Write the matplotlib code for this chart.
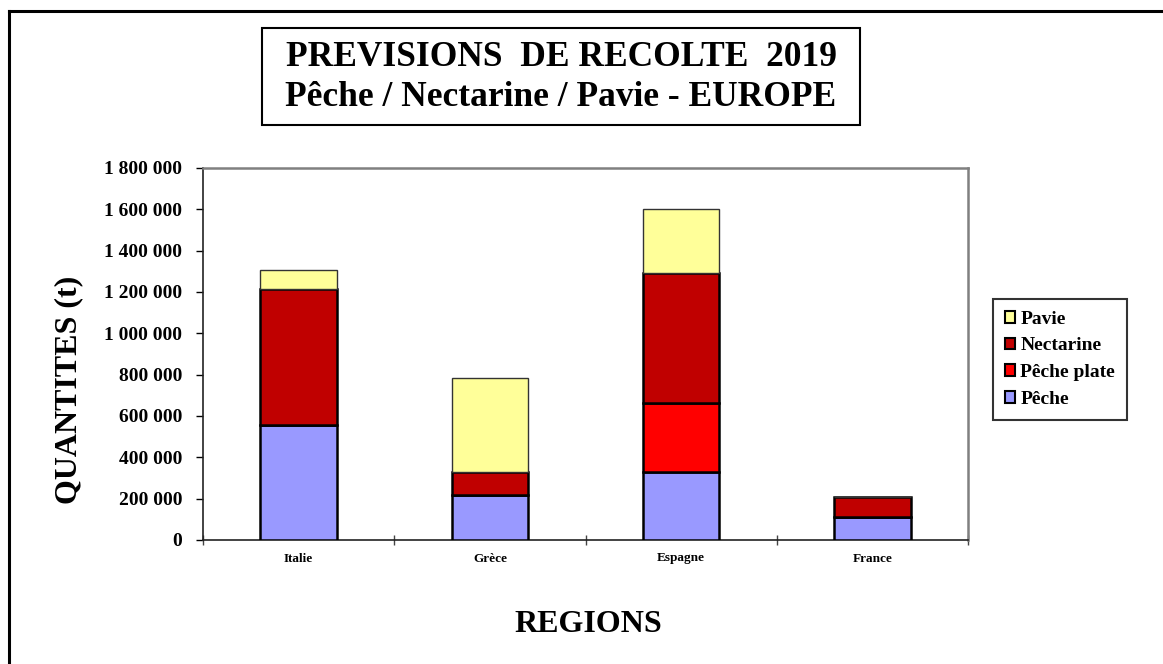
import matplotlib
matplotlib.use("Agg")
import matplotlib.pyplot as plt
from matplotlib.ticker import FuncFormatter, FixedLocator, MultipleLocator
from matplotlib.patches import Rectangle
from matplotlib.lines import Line2D
import numpy as np

regions = ["Italie", "Grèce", "Espagne", "France"]
peche = [556000, 218000, 327000, 110000]
peche_plate = [0, 0, 334000, 0]
nectarine = [657000, 112000, 632000, 100000]
pavie = [93000, 452000, 309000, 0]

series_names = ["Pêche", "Pêche plate", "Nectarine", "Pavie"]
series_colors = ["#9999FF", "#FF0000", "#C00000", "#FFFF99"]

plt.rcParams["font.family"] = ["Liberation Serif", "DejaVu Serif"]
plt.rcParams["font.weight"] = "bold"

W, H = 1163, 664
fig = plt.figure(figsize=(W / 100, H / 100), dpi=100)
fig.patch.set_facecolor("white")

def fx(px):
    return px / W

def fy(py):
    return 1 - py / H

# outer frame (left and top edges visible)
fig.add_artist(Line2D([fx(9), fx(9)], [0, fy(11)], color="black", lw=2.2, transform=fig.transFigure))
fig.add_artist(Line2D([fx(9), 1], [fy(11), fy(11)], color="black", lw=2.2, transform=fig.transFigure))

ax = fig.add_axes([fx(203), fy(540), (968 - 203) / W, (540 - 168) / H])

x = np.arange(len(regions))
bottom = np.zeros(len(regions))
data = [peche, peche_plate, nectarine, pavie]
for name, vals, col in zip(series_names, data, series_colors):
    vals = np.array(vals, dtype=float)
    lw = 1.0 if name == "Pavie" else 1.8
    ec = "#333333" if name == "Pavie" else "black"
    ax.bar(x, vals, bottom=bottom, width=0.40, color=col, edgecolor=ec,
           linewidth=lw, label=name, zorder=3)
    bottom += vals

ax.set_xlim(-0.5, len(regions) - 0.5)
ax.set_ylim(0, 1800000)
ax.yaxis.set_major_locator(MultipleLocator(200000))
ax.yaxis.set_major_formatter(FuncFormatter(lambda v, p: f"{int(v):,}".replace(",", " ")))

ax.set_xticks(x)
ax.set_xticklabels(regions, fontsize=9.5, fontweight="bold")
ax.tick_params(axis="x", which="major", length=0, pad=9)
ax.xaxis.set_minor_locator(FixedLocator(np.arange(-0.5, len(regions), 1.0)))
ax.tick_params(axis="x", which="minor", length=7, direction="inout", width=1, color="#444444")
ax.tick_params(axis="y", length=5, width=1, direction="out", labelsize=14, pad=10)
for lab in ax.get_yticklabels():
    lab.set_fontweight("bold")

for s in ["left", "bottom"]:
    ax.spines[s].set_color("#222222")
    ax.spines[s].set_linewidth(1.2)
for s in ["top", "right"]:
    ax.spines[s].set_color("#808080")
    ax.spines[s].set_linewidth(1.8)

fig.text(fx(69), fy(390), "QUANTITES (t)", rotation=90, ha="center", va="center",
         fontsize=23, fontweight="bold")
fig.text(fx(588), fy(625), "REGIONS", ha="center", va="center",
         fontsize=23, fontweight="bold")

# title box
fig.add_artist(Rectangle((fx(262), fy(125)), (860 - 262) / W, (125 - 28) / H,
                         transform=fig.transFigure, fill=False, ec="black", lw=1.5))
fig.text(fx(561), fy(58), "PREVISIONS  DE RECOLTE  2019", ha="center", va="center",
         fontsize=25.5, fontweight="bold")
fig.text(fx(561), fy(98), "Pêche / Nectarine / Pavie - EUROPE", ha="center", va="center",
         fontsize=25.5, fontweight="bold")

handles, labels = ax.get_legend_handles_labels()
leg = fig.legend(handles[::-1], labels[::-1], loc="upper left",
                 bbox_to_anchor=(fx(993), fy(299)), frameon=True,
                 fancybox=False, edgecolor="black", fontsize=14,
                 handlelength=0.55, handleheight=0.55, handletextpad=0.25,
                 labelspacing=0.5, borderpad=0.6, borderaxespad=0)
leg.get_frame().set_linewidth(1.5)
for h in leg.legend_handles:
    h.set_edgecolor("black")
    h.set_linewidth(1.5)

fig.savefig("out.png", dpi=100)
